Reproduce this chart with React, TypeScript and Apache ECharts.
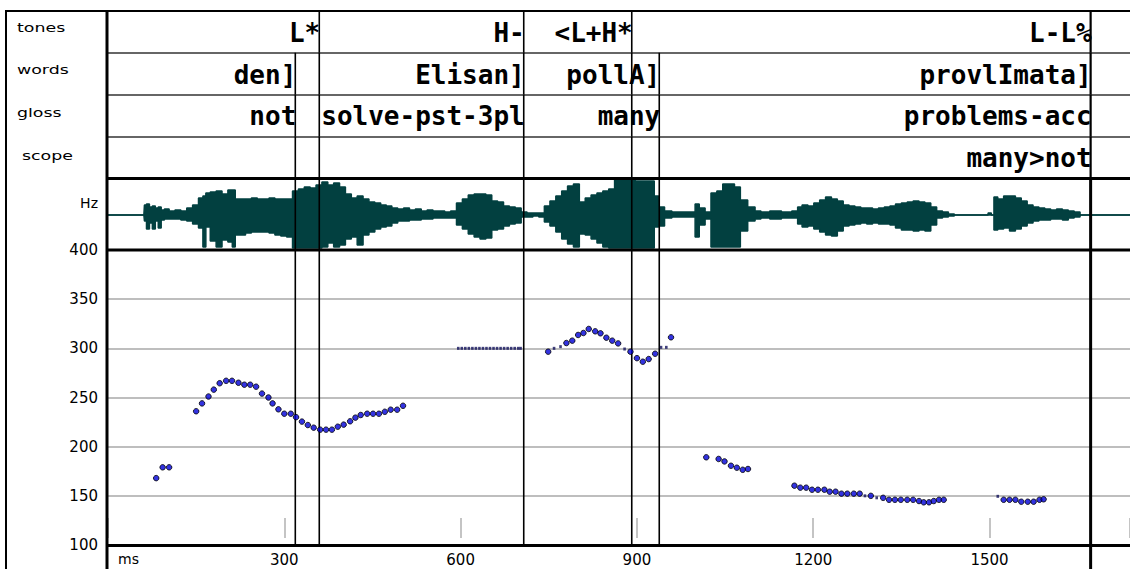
import React, { useEffect, useRef } from "react";
import * as echarts from "echarts";

// ---------- axis ----------
const X_MAX = 1739; // ms at right edge
const X_TICK = 300;
const HZ_MIN = 100;
const HZ_MAX = 400;
const HZ_STEP = 50;

// ---------- tiers ----------
const tierNames = ["tones", "words", "gloss", "scope"];
const toneTimes = [359.5, 707.4, 891.2, 1672];
const toneLabels = ["L*", "H-", "<L+H*", "L-L%"];
const wordTimes = [318.7, 707.4, 938, 1672];
const wordLabels = ["den]", "Elisan]", "pollA]", "provlImata]"];
const glossTimes = [318.7, 707.4, 938, 1672];
const glossLabels = ["not", "solve-pst-3pl", "many", "problems-acc"];
const scopeTimes = [1672];
const scopeLabels = ["many>not"];
const toneBounds = [359.5, 707.4, 891.2, 1672];
const otherBounds = [318.7, 359.5, 707.4, 891.2, 938, 1672];
const signalBounds = [318.7, 359.5, 707.4, 891.2, 938, 1672];

// ---------- waveform envelope (ms, upper, lower) ----------
const waveT = [0, 61, 63, 68, 73, 78, 83, 88, 93, 99, 109, 119, 129, 139, 149, 159, 164, 169, 179, 189, 199, 209, 214, 219, 229, 239, 249, 259, 269, 279, 289, 299, 309, 319, 329, 339, 349, 359, 369, 379, 389, 399, 409, 419, 429, 439, 449, 459, 469, 478, 488, 498, 508, 518, 528, 538, 548, 558, 568, 578, 588, 598, 608, 618, 628, 638, 648, 658, 668, 678, 688, 698, 708, 718, 728, 738, 747, 757, 767, 777, 787, 797, 807, 817, 827, 837, 847, 857, 867, 927, 932, 942, 952, 967, 997, 1001, 1011, 1021, 1031, 1041, 1051, 1061, 1071, 1081, 1096, 1106, 1116, 1136, 1156, 1171, 1176, 1186, 1196, 1206, 1216, 1226, 1236, 1246, 1256, 1266, 1276, 1286, 1296, 1306, 1316, 1326, 1335, 1345, 1355, 1365, 1375, 1385, 1395, 1405, 1415, 1425, 1435, 1445, 1495, 1500, 1506, 1509, 1519, 1529, 1539, 1549, 1559, 1569, 1579, 1589, 1599, 1609, 1619, 1629, 1639, 1649, 1659, 1739];
const waveUp = [0, 0, 10, 11, 8, 9, 7, 8, 5, 6, 4, 5, 4, 7, 10, 17, 19, 22, 23, 24, 21, 25, 25, 16, 16, 16, 17, 16, 16, 17, 16, 16, 16, 24, 26, 28, 27, 30, 33, 30, 32, 28, 21, 17, 19, 16, 13, 12, 10, 9, 7, 6, 7, 5, 6, 4, 5, 4, 4, 3, 4, 12, 16, 20, 21, 21, 20, 14, 13, 9, 8, 7, 3, 2, 2, 2, 9, 14, 19, 24, 29, 31, 13, 17, 20, 22, 24, 26, 36, 34, 19, 8, 4, 3, 3, 11, 7, 3, 22, 24, 31, 31, 28, 15, 8, 4, 3, 4, 3, 4, 8, 10, 9, 12, 15, 18, 16, 14, 10, 9, 8, 7, 7, 6, 7, 8, 9, 11, 12, 13, 14, 13, 12, 8, 4, 3, 1, 0, 0, 2, 0, 18, 16, 19, 19, 17, 14, 10, 8, 7, 6, 5, 6, 5, 4, 3, 0, 0];
const waveDown = [0, 0, -6, -14, -8, -14, -6, -13, -5, -4, -4, -4, -5, -6, -9, -13, -32, -12, -26, -32, -25, -27, -32, -20, -20, -18, -17, -17, -17, -18, -20, -21, -22, -33, -33, -33, -33, -33, -32, -28, -32, -30, -24, -22, -30, -20, -17, -14, -12, -11, -8, -6, -6, -5, -5, -4, -4, -3, -3, -3, -3, -10, -14, -19, -22, -24, -23, -15, -14, -11, -9, -8, -2, -2, -1, -2, -7, -11, -17, -24, -29, -32, -19, -20, -24, -28, -32, -33, -33, -33, -12, -11, -3, -2, -2, -22, -10, -4, -32, -32, -32, -32, -32, -16, -6, -4, -3, -4, -3, -3, -9, -12, -11, -14, -17, -20, -21, -16, -11, -10, -9, -8, -9, -8, -9, -9, -10, -13, -15, -15, -16, -15, -16, -10, -3, -2, -1, 0, 0, 0, 0, -15, -14, -13, -16, -14, -11, -8, -6, -5, -5, -4, -4, -5, -3, -2, 0, 0];

// ---------- pitch track (ms, Hz) ----------
const pitchDotT = [82, 93, 104, 150, 160, 171, 180, 190, 201, 211, 222, 232, 242, 252, 262, 273, 280, 290, 300, 311, 320, 330, 340, 350, 361, 371, 381, 391, 401, 412, 421, 430, 441, 451, 461, 471, 481, 492, 502, 749, 780, 790, 800, 809, 818, 829, 838, 848, 858, 868, 889, 900, 910, 920, 931, 958, 1018, 1039, 1049, 1060, 1070, 1080, 1089, 1168, 1178, 1188, 1198, 1208, 1219, 1228, 1238, 1248, 1258, 1269, 1279, 1298, 1319, 1329, 1339, 1349, 1360, 1370, 1380, 1388, 1397, 1405, 1414, 1422, 1524, 1534, 1544, 1554, 1565, 1575, 1585, 1592];
const pitchDotHz = [168, 179, 179, 236, 244, 251, 258, 264.5, 267, 267, 265, 263, 263, 261, 254, 250, 244, 238, 233.5, 233.5, 230, 225.5, 222, 219.3, 217.3, 217.3, 217.3, 220.3, 222.4, 225.8, 229.5, 232.2, 233.5, 233.5, 233.5, 235.5, 237.6, 237.6, 241.6, 296.6, 305.4, 307.8, 313.6, 315.6, 319.7, 317.3, 315.3, 310.8, 307.8, 305, 296.6, 290, 286.4, 289.1, 294.5, 311.2, 189.2, 187.5, 185, 180.6, 178.6, 176.5, 177.3, 160.3, 158.3, 158.3, 156.2, 156.2, 156.2, 154.2, 154.2, 152.2, 152.2, 152.2, 152.2, 150, 148, 146, 146, 146, 146, 146, 144.7, 143.4, 143.4, 144.7, 146, 146, 146, 146, 146, 144, 144, 144, 146, 146.5];
const pitchDashT = [596, 602, 608, 614, 620, 626, 632, 638, 644, 650, 656, 662, 668, 674, 680, 686, 692, 698, 702, 759, 770, 879, 941, 950, 1288, 1308, 1514];
const pitchDashHz = [300, 300, 300, 300, 300, 300, 300, 300, 300, 300, 300, 300, 300, 300, 300, 300, 300, 300, 300, 300, 301.7, 299.3, 301, 301, 150, 148, 149.5];

const WAVE_COLOR = "#024040";
const FONT_LBL = "DejaVu Sans";

export default function App() {
  const ref = useRef<HTMLDivElement>(null);
  useEffect(() => {
    if (!ref.current) return;
    const chart = echarts.init(ref.current, null, { renderer: "svg" });

    const tierText: any[] = [];
    const pushTier = (times: number[], labels: string[], row: number) =>
      times.forEach((t, i) => tierText.push({ value: [t, row], name: labels[i] }));
    pushTier(toneTimes, toneLabels, 0);
    pushTier(wordTimes, wordLabels, 1);
    pushTier(glossTimes, glossLabels, 2);
    pushTier(scopeTimes, scopeLabels, 3);

    const tierBounds: number[][] = [];
    toneBounds.forEach((t) => tierBounds.push([t, 0]));
    [1, 2, 3].forEach((r) => otherBounds.forEach((t) => tierBounds.push([t, r])));

    const lastB = signalBounds[signalBounds.length - 1];

    const vline = (widthFor: (t: number) => number) => (params: any, api: any) => {
      const cs = params.coordSys;
      const t = api.value(0);
      const x = api.coord([t, api.value(1)])[0];
      return {
        type: "line",
        shape: { x1: x, y1: cs.y, x2: x, y2: cs.y + cs.height },
        style: { stroke: "#000", lineWidth: widthFor(t) },
      };
    };

    const xBase = (gi: number) => ({
      type: "value",
      gridIndex: gi,
      min: 0,
      max: X_MAX,
      interval: X_TICK,
      show: false,
    });

    const option: any = {
      animation: false,
      backgroundColor: "#fff",
      grid: [
        { left: 108, top: 11, width: 1022, height: 167 },
        { left: 108, top: 179, width: 1022, height: 72 },
        { left: 108, top: 250, width: 1022, height: 295 },
        { left: 108, top: 518, width: 1022, height: 20 },
        { left: 108, top: 546, width: 1022, height: 23 },
      ],
      xAxis: [
        xBase(0),
        xBase(1),
        {
          type: "value",
          gridIndex: 2,
          min: 0,
          max: X_MAX,
          interval: X_TICK,
          axisLine: { show: true, onZero: false, lineStyle: { color: "#000", width: 3 } },
          axisTick: { show: false },
          splitLine: { show: false },
          axisLabel: {
            show: true,
            margin: 7,
            color: "#000",
            fontFamily: FONT_LBL,
            fontSize: 15,
            showMaxLabel: false,
            formatter: (v: number) => (v === 0 ? "" : String(v)),
          },
        },
        {
          type: "value",
          gridIndex: 3,
          min: 0,
          max: X_MAX,
          interval: X_TICK,
          axisLine: { show: false },
          axisTick: { show: false },
          axisLabel: { show: false },
          splitLine: { show: true, lineStyle: { color: "#b0b0b0", width: 1.5 } },
        },
        xBase(4),
      ],
      yAxis: [
        {
          type: "value",
          gridIndex: 0,
          min: 0,
          max: 4,
          interval: 1,
          inverse: true,
          axisLine: { show: false },
          axisTick: { show: false },
          axisLabel: { show: false },
          splitLine: { show: true, lineStyle: { color: "#333", width: 1.5 } },
        },
        { type: "value", gridIndex: 1, min: -36, max: 36, show: false },
        {
          type: "value",
          gridIndex: 2,
          min: HZ_MIN,
          max: HZ_MAX,
          interval: HZ_STEP,
          axisLine: { show: false },
          axisTick: { show: false },
          axisLabel: {
            show: true,
            margin: 10,
            color: "#000",
            fontFamily: FONT_LBL,
            fontSize: 15,
          },
          splitLine: { show: true, lineStyle: { color: "#a8a8a8", width: 1.5 } },
        },
        { type: "value", gridIndex: 3, min: 0, max: 1, show: false },
        { type: "value", gridIndex: 4, min: 0, max: 1, show: false },
      ],
      series: [
        {
          type: "custom",
          xAxisIndex: 0,
          yAxisIndex: 0,
          data: tierBounds,
          z: 3,
          renderItem: (params: any, api: any) => {
            const t = api.value(0);
            const r = api.value(1);
            const p0 = api.coord([t, r]);
            const p1 = api.coord([t, r + 1]);
            return {
              type: "line",
              shape: { x1: p0[0], y1: p0[1], x2: p1[0], y2: p1[1] },
              style: { stroke: "#000", lineWidth: t === lastB ? 2.2 : 1.6 },
            };
          },
        },
        {
          type: "custom",
          xAxisIndex: 0,
          yAxisIndex: 0,
          data: tierText,
          z: 4,
          renderItem: (params: any, api: any) => {
            const t = api.value(0);
            const r = api.value(1);
            const p = api.coord([t, r + 0.5]);
            return {
              type: "text",
              x: p[0] + 1,
              y: p[1] + 1,
              style: {
                text: tierText[params.dataIndex].name,
                align: "right",
                verticalAlign: "middle",
                font: 'bold 26px "DejaVu Sans Mono"',
                fill: "#000",
              },
            };
          },
        },
        {
          type: "line",
          xAxisIndex: 1,
          yAxisIndex: 1,
          data: waveT.map((t, i) => [t, waveUp[i]]),
          step: "middle",
          symbol: "none",
          lineStyle: { color: WAVE_COLOR, width: 1.5 },
          areaStyle: { color: WAVE_COLOR, opacity: 1, origin: 0 },
          z: 2,
        },
        {
          type: "line",
          xAxisIndex: 1,
          yAxisIndex: 1,
          data: waveT.map((t, i) => [t, waveDown[i]]),
          step: "middle",
          symbol: "none",
          lineStyle: { color: WAVE_COLOR, width: 1.5 },
          areaStyle: { color: WAVE_COLOR, opacity: 1, origin: 0 },
          z: 2,
        },
        {
          type: "custom",
          xAxisIndex: 1,
          yAxisIndex: 1,
          data: signalBounds.map((t) => [t, 0]),
          z: 5,
          renderItem: vline((t) => (t === lastB ? 3 : 1.6)),
        },
        {
          type: "custom",
          xAxisIndex: 2,
          yAxisIndex: 2,
          data: signalBounds.map((t) => [t, 200]),
          z: 5,
          renderItem: vline((t) => (t === lastB ? 3 : 1.6)),
        },
        {
          type: "custom",
          xAxisIndex: 4,
          yAxisIndex: 4,
          data: [[lastB, 0.5]],
          z: 5,
          renderItem: vline(() => 3),
        },
        {
          type: "scatter",
          xAxisIndex: 2,
          yAxisIndex: 2,
          data: pitchDashT.map((t, i) => [t, pitchDashHz[i]]),
          symbol: "rect",
          symbolSize: [2.6, 3],
          itemStyle: { color: "#10105a" },
          z: 6,
        },
        {
          type: "scatter",
          xAxisIndex: 2,
          yAxisIndex: 2,
          data: pitchDotT.map((t, i) => [t, pitchDotHz[i]]),
          symbol: "circle",
          symbolSize: 5.5,
          itemStyle: { color: "#0000d8", borderColor: "#000", borderWidth: 1 },
          z: 7,
        },
      ],
      graphic: [
        { type: "line", z: 100, shape: { x1: 5, y1: 11, x2: 1130, y2: 11 }, style: { stroke: "#000", lineWidth: 2 } },
        { type: "line", z: 100, shape: { x1: 6, y1: 10, x2: 6, y2: 569 }, style: { stroke: "#000", lineWidth: 2 } },
        { type: "line", z: 100, shape: { x1: 107, y1: 10, x2: 107, y2: 569 }, style: { stroke: "#000", lineWidth: 3 } },
        { type: "line", z: 100, shape: { x1: 106, y1: 178.5, x2: 1130, y2: 178.5 }, style: { stroke: "#000", lineWidth: 3 } },
        { type: "line", z: 100, shape: { x1: 106, y1: 250, x2: 1130, y2: 250 }, style: { stroke: "#000", lineWidth: 3 } },
        ...tierNames.map((n, i) => ({
          type: "text",
          z: 100,
          x: i === 3 ? 22 : 17,
          y: [28, 70, 113, 156][i],
          scaleX: 1.45,
          style: { text: n, fill: "#000", font: `12px "${FONT_LBL}"`, align: "left", verticalAlign: "middle" },
        })),
        {
          type: "text",
          z: 100,
          x: 98,
          y: 203,
          style: { text: "Hz", fill: "#000", font: `14px "${FONT_LBL}"`, align: "right", verticalAlign: "middle" },
        },
        {
          type: "text",
          z: 100,
          x: 118,
          y: 559,
          style: { text: "ms", fill: "#000", font: `14px "${FONT_LBL}"`, align: "left", verticalAlign: "middle" },
        },
      ],
    };
    chart.setOption(option);
    return () => chart.dispose();
  }, []);
  return (
    <div
      ref={ref}
      style={{ position: "fixed", left: 0, top: 0, width: 1130, height: 569, background: "#fff" }}
    />
  );
}
